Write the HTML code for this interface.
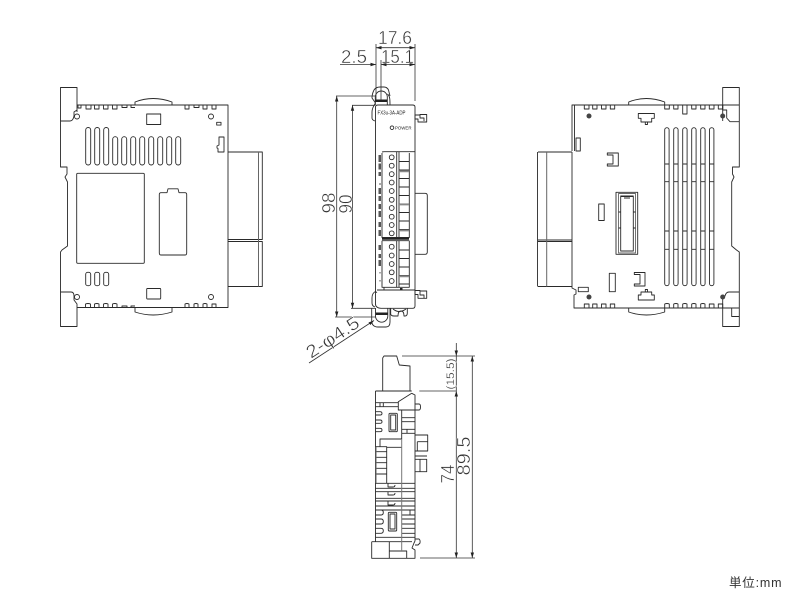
<!DOCTYPE html>
<html><head><meta charset="utf-8"><style>
html,body{margin:0;padding:0;background:#fff}
svg{display:block}
.l{fill:none;stroke:#2a2a2a;stroke-width:.9;stroke-linejoin:round}
.g{fill:none;stroke:#666;stroke-width:1}
.d{fill:none;stroke:#333;stroke-width:.8}
.a{fill:#222;stroke:none}
.t{font-family:"Liberation Sans",sans-serif;fill:#333;stroke:#fff;stroke-width:.45}
.s{font-family:"Liberation Sans",sans-serif;fill:#222;font-size:5px}
</style></head><body>
<svg width="800" height="600" viewBox="0 0 800 600" xmlns="http://www.w3.org/2000/svg">
<rect width="800" height="600" fill="#fff"/>

<!-- LEFT VIEW -->
<g class="l">
<path d="M60.5 121V87.5H77V112"/>
<path d="M77 105H228V307.5H77"/>
<path d="M77 110L74 112V116Q73 121 70 121H60.5V167H67V174L65 177L67.5 182V246L62 250L60.5 252V292H71Q74 292 74 296V300L77 304V326.5H60.5V292"/>
<path d="M135 105V102Q153 95 172 102V105M135 308V312Q153 318 172 312V308"/>
<path d="M86 105V109H91V105M94.500 105V109H99V105M103.500 105V109H108V105M112.500 105V109H117V105M122 105V107.500H127V105M131 105V107.500H135M185 105V109H189V105M194 105V107.500H199V105M203 105V109H207V105M212 105V109H216V105"/>
<path d="M85.500 308V304Q88 303 90.500 304V308M94.500 308V304Q97 303 99 304V308M103.500 308V304Q106 303 108 304V308M112.500 308V304Q115 303 117 304V308M122 308V306H127V308M131 308V306H135M185 308V304Q187 303 189 304V308M194 308V304Q196 303 198 304V308M203 308V304Q205 303 207 304V308M212 308V304H216V308"/>
<path d="M78 105V108H81V105"/>
<circle cx="77" cy="116.500" r="2.500"/><circle cx="211" cy="116.500" r="2.500"/>
<circle cx="77" cy="297" r="2.500"/><circle cx="211" cy="297" r="2.500"/>
<rect x="146.700" y="114" width="14" height="10.500"/>
<rect x="146.700" y="288.500" width="14" height="10.500" rx=".7"/>
<rect x="216.700" y="122.300" width="4.300" height="2.800"/>
<path d="M219 137H224V152H218V148.500L217 148V146L219 145Z"/>
<rect x="85.700" y="127.500" width="5" height="37.500" rx="2.500"/>
<rect x="94.700" y="127.500" width="5" height="37.500" rx="2.500"/>
<rect x="103.700" y="127.500" width="5" height="37.500" rx="2.500"/>
<rect x="112.700" y="136.700" width="5" height="28.300" rx="2.500"/>
<rect x="121.700" y="136.700" width="5" height="28.300" rx="2.500"/>
<rect x="130.700" y="136.700" width="5" height="28.300" rx="2.500"/>
<rect x="139.700" y="136.700" width="5" height="28.300" rx="2.500"/>
<rect x="148.700" y="136.700" width="5" height="28.300" rx="2.500"/>
<rect x="157.700" y="136.700" width="5" height="28.300" rx="2.500"/>
<rect x="166.700" y="136.700" width="5" height="28.300" rx="2.500"/>
<rect x="175.700" y="136.700" width="5" height="28.300" rx="2.500"/>
<rect x="85.700" y="272.300" width="5" height="13.400" rx="2"/>
<rect x="94.700" y="272.300" width="5" height="13.400" rx="2"/>
<rect x="103.700" y="272.300" width="5" height="13.400" rx="2"/>
<rect x="76.700" y="173.300" width="67.600" height="90" rx="1"/>
<path d="M159.300 194.500Q159.300 192.700 161 192.700H167L168 188.800H178L179 192.700H185Q186.700 192.700 186.700 194.500V253Q186.700 255 185 255H161Q159.300 255 159.300 253Z"/>
<path d="M228 152H262.300V239.500H228M228 241.500H262.300V286.500H228"/>
</g>
<path class="g" d="M258.500 152V286.500"/>

<!-- RIGHT VIEW -->
<g class="l">
<path d="M739.300 105H572V151M572 152V288L576 290V294L574 295V308H739.300M574.500 105V151"/>
<path d="M722.700 121V87.500H739.300V167H732.500V174L734 177L731.700 182V246L736.500 250L739.300 252V292H729Q726 292 725 296L722.700 299V326.500H739.300V292"/>
<path d="M731.700 308V316.500H739.300"/>
<path d="M722.700 105V110H726.700V118L730 121.700H739.300"/>
<rect x="576" y="138" width="4.300" height="13"/>
<path d="M628.700 105V102Q646 95 664.700 102V105M628.700 308V312Q646 318 664.700 312V308"/>
<path d="M584.300 105V109H589V105M592.700 105V109H597V105M601.500 105V109H606V105M610.300 105V109H614.700V105M664.700 105V109H669.300V105M673.700 105V109H678V105M682.700 105V114H687V105M691.700 105V109H696V105M700.700 105V109H705V105M709.300 105V109H714V105M718.300 105V109H722.700V105"/>
<path d="M584.300 308V304H589V308M592.700 308V304H597V308M601.500 308V304H606V308M610.300 308V304H614.700V308M664.700 308V304Q667 303 669.300 304V308M673.700 308V304Q676 303 678 304V308M682.700 308V304Q685 303 687 304V308M691.700 308V304Q694 303 696 304V308M700.700 308V304Q703 303 705 304V308M709.300 308V304H714V308M718.300 308V304H722.700V308"/>
<path d="M538 152H572M538 240H572M538 241.500H572M538 286.500H572M537.500 152V286.500"/>
<path d="M638.300 113.500H654.300V118.300H651.700V122H641V118.300H638.300Z"/>
<path d="M645.300 122V124.500H647.500V122"/>
<path d="M638.300 300H654.300V295H651.700V292H641V295H638.300Z"/>
<path d="M645.300 292V289.500H647.500V292"/>
<path d="M607.300 153H618.300V166H607.300V164H613V155H607.300Z"/>
<path d="M645 272.500H634.300V274.500H640V284H634.300V286H645Z"/>
<rect x="664.700" y="127.700" width="4.400" height="158" rx="2.200"/>
<rect x="673.700" y="127.700" width="4.400" height="158" rx="2.200"/>
<rect x="682.700" y="127.700" width="4.400" height="158" rx="2.200"/>
<rect x="691.700" y="127.700" width="4.400" height="158" rx="2.200"/>
<rect x="700.700" y="127.700" width="4.400" height="158" rx="2.200"/>
<rect x="709.500" y="127.700" width="4.400" height="158" rx="2.200"/>
<path d="M664.700 164H669M673.700 164H678M682.700 164H687M691.700 164H696M700.700 164H705M709.500 164H714M664.700 181.700H669M673.700 181.700H678M682.700 181.700H687M691.700 181.700H696M700.700 181.700H705M709.500 181.700H714M664.700 231H669M673.700 231H678M682.700 231H687M691.700 231H696M700.700 231H705M709.500 231H714M664.700 249.300H669M673.700 249.300H678M682.700 249.300H687M691.700 249.300H696M700.700 249.300H705M709.500 249.300H714"/>
<rect x="616" y="192.300" width="21.700" height="62"/>
<rect x="618.500" y="193.500" width="17" height="59.500" stroke="#666"/>
<path d="M620.700 196V251H633.300V196Z"/>
<path d="M621 196.500H633M621 251H633M624 198H630M633.500 212H635.500M633.500 228H635.500M618.500 212H620.700M618.500 228H620.700"/>
<rect x="598.700" y="204" width="5.500" height="16.500"/>
<rect x="609.300" y="273.300" width="6" height="18.400"/>
<rect x="578.300" y="287.300" width="10" height="4.400"/>
</g>
<path class="g" d="M546.700 152V286.500"/>
<g fill="#444">
<circle cx="589" cy="116" r="2.500"/><circle cx="722.700" cy="116" r="2.500"/>
<circle cx="589" cy="297" r="2.500"/><circle cx="722.700" cy="297" r="2.500"/>
</g>

<!-- MIDDLE VIEW -->
<g class="l">
<path d="M375.500 107Q375.500 105 378 105H412.500Q415 105 415 107V306Q415 308.300 412.500 308.300H381Q375.500 308 375.500 304V107Z"/>
<path d="M375.500 103Q372 108 372 112V118Q372 120 375 121M387.500 94C390 96 390 100 390 105M380 87H384Q387 87 388.500 90L390 96M380 87Q376 87 374 90Q372 94 372 98L375.500 103"/>
<path d="M375.300 105V97A6 6 0 0 1 387.300 97V105"/>
<path d="M415 115H420V114.500H426.700V122H418V119H415ZM420 114.500V118H424V121"/>
<path d="M415 290.500H420V291H426.700V298.300H418V294.500H415ZM420 291V295H424V298"/>
<path d="M415 193.300H425Q427.300 193.300 427.300 195.500V252Q427.300 254.300 425 254.300H415"/>
<path d="M382 152L384 151.700H415M382 153V237.500H409.300V153M396.700 152V237.500M399 152V237.500"/>
<path d="M382 240.700V287.300H409.300V240.700M382 240.700H409.300M396.700 240.700V287.300M399 240.700V287.300"/>
<path d="M384 290.500V287.300M377 290H415M377 292.700L375.500 291.500Q372 293 372 298V303Q372 306 375 307"/>
<path d="M375.500 308V316A6 6 0 0 0 387.800 316V308M371.700 308V321Q372 327 378 327H386Q390 327 390 322V308"/>
<path d="M390.700 308V314Q391 316 394 316H398Q398 311 401 311Q404 311 404 316H405Q407.300 316 407.300 313V308"/>
<path d="M393 309Q399 314 406 309"/>
<circle cx="392" cy="127.700" r="1.800"/>
<circle cx="391.700" cy="157.300" r="2.400"/><circle cx="391.700" cy="165.700" r="2.400"/><circle cx="391.700" cy="174.100" r="2.400"/><circle cx="391.700" cy="182.500" r="2.400"/><circle cx="391.700" cy="191" r="2.400"/><circle cx="391.700" cy="199.800" r="2.400"/><circle cx="391.700" cy="208" r="2.400"/><circle cx="391.700" cy="216.700" r="2.400"/><circle cx="391.700" cy="225" r="2.400"/><circle cx="391.700" cy="233.300" r="2.400"/>
<circle cx="391.700" cy="246.700" r="2.400"/><circle cx="391.700" cy="255.500" r="2.400"/><circle cx="391.700" cy="264" r="2.400"/><circle cx="391.700" cy="272.300" r="2.400"/><circle cx="391.700" cy="281" r="2.400"/>
<path d="M399 161.500H409.300M399 170H409.300M399 178.500H409.300M399 187H409.300M399 195.500H409.300M399 204H409.300M399 212.500H409.300M399 221H409.300M399 229.500H409.300"/>
<path d="M399 250H409.300M399 258.500H409.300M399 267H409.300M399 275.500H409.300M399 284H409.300"/>
</g>
<path d="M382 238.700H409" stroke="#222" stroke-width="2" fill="none"/>
<path d="M399 171.300H409M399 204.500H409M399 230.500H409M399 276.300H409" stroke="#888" stroke-width="1.800" fill="none"/>
<path d="M375.500 100.700H387.300M375.800 313.700H387.800" stroke="#222" stroke-width="2.500" fill="none"/>
<rect x="400" y="288" width="2.500" height="2" fill="#222"/>
<text class="s" x="377.500" y="114.500" textLength="28" lengthAdjust="spacingAndGlyphs" style="font-size:5.500px">FX3u-3A-ADP</text>
<text class="s" x="395" y="129.500" textLength="16.500" lengthAdjust="spacingAndGlyphs" style="font-size:4.800px">POWER</text>
<g fill="#555">
<rect x="378.500" y="155" width="2.500" height="7"/><rect x="378.500" y="163.500" width="2.500" height="6"/><rect x="378.500" y="172" width="2.500" height="4"/><rect x="379.500" y="183" width="1" height="2"/><rect x="378.500" y="188" width="2.500" height="6"/><rect x="378.500" y="196" width="2.500" height="5"/><rect x="378.500" y="204" width="2.500" height="5"/><rect x="378.500" y="211" width="2.500" height="6"/><rect x="378.500" y="222" width="2.500" height="5"/><rect x="378.500" y="230" width="2.500" height="6"/>
<rect x="378.500" y="245" width="2.500" height="5"/><rect x="378.500" y="254" width="2.500" height="4"/><rect x="378.500" y="260" width="2.500" height="6"/><rect x="379.500" y="272" width="1" height="1.500"/><rect x="379.500" y="280" width="1" height="1.500"/>
</g>

<!-- BOTTOM VIEW -->
<g class="l">
<path d="M382.700 390.700V358L384 356H396.700L399.300 365L410 366V390.700"/>
<path d="M375.500 391H411.700M375.500 391V541.700M415 395V541M411.700 393.300L415 395V410H398.300V401.700L411.700 393.300M415 404H419Q420.500 404 420.500 407Q420.500 410 419 410H415"/>
<path d="M375.500 402.700H398.300M375.500 406.700H398.300M380 402.700V406.700M383.300 402.700V406.700"/>
<path d="M375.500 411.700H380Q382 411.700 382 413.500Q382 415 380 415H375.500M375.500 420H380Q382 420 382 421.700Q382 423.300 380 423.300H375.500M375.500 428.300H380Q382 428.300 382 430Q382 431.700 380 431.700H375.500"/>
<rect x="389" y="413.300" width="8.300" height="18.400" rx="1"/>
<rect x="390.700" y="415" width="5" height="15"/>
<path d="M401.700 410V439M401.700 417.700H415M401.700 421.700H415M401.700 429.300H415M401.700 433.300H415M407 429.300V433.300"/>
<path d="M401.700 439H380V446.700M375.500 446.700H386.700V483M386.700 447.300H401.700"/>
<path d="M375.500 451.700H386.700M375.500 457.300H386.700M375.500 462.700H386.700M375.500 468.300H386.700M375.500 474H386.700"/>
<path d="M375.500 483.300H415M375.500 488.300H415M375.500 491.700H415M375.500 498.300H415M375.500 501H415M375.500 506H415M375.500 510H415"/>
<path d="M388 483.300V487H393Q395 487 395 485M388 491.700V495H393Q395 495 395 493M388 501V505H393Q395 505 395 503"/>
<path d="M375.500 515H381Q383.300 515 383.300 512.500Q383.300 510 381 510M375.500 519H381Q383.300 519 383.300 521.500Q383.300 524 381 524H375.500M375.500 528.300H381Q383.300 528.300 383.300 530.800Q383.300 533.300 381 533.300H375.500"/>
<rect x="388.300" y="512.300" width="8.400" height="18.700" rx="1"/>
<rect x="390" y="514" width="5" height="15"/>
<path d="M401.700 515H415M401.700 519H415M401.700 524H415M401.700 528.300H415M401.700 533.300H415M410 510V515"/>
<path d="M375.500 537.300H415M375.500 541.700H412"/>
<path d="M371.700 541.700H375.500M371.700 541.700V558.300H415V550L412 548L414 543L415 541M389.300 541.700V558.300M389.300 551H406.700V558.300"/>
<path d="M415 539L419 539Q420.500 540 420 543L418 545H415"/>
<path d="M415 435H427.700V451H415M417.300 441.700H427.700M417.300 441.700V451"/>
<path d="M415 456H427M415 459.300H426.700V471.700H415M420 459.300V471.700"/>
</g>
<path d="M401.700 439V551" stroke="#777" stroke-width="1" fill="none"/>
<path class="g" d="M376 447V483" stroke-width="1.500"/>

<!-- DIMENSIONS -->
<g class="d">
<path d="M376 44V100M415 44V101M381 60V100"/>
<path d="M376 47.700H415M340 64.500H376M381 64.500H415"/>
<path d="M336 96H375M335 317H376M352 105.300H375M351 308.300H375"/>
<path d="M336.700 96V317M352.500 105.300V308.300"/>
<path d="M309 363L374 320.500"/>
<path d="M456.300 343V558M472.300 356V558M402 356H475M419.300 391H456.300M420 558H475"/>
</g>
<g class="a">
<path d="M376 47.700L381.500 46V49.400ZM415 47.700L409.500 46V49.400ZM376 64.500L370.500 62.800V66.200ZM381 64.500L386.500 62.800V66.200ZM415 64.500L409.500 62.800V66.200Z"/>
<path d="M336.700 96L335 101.500H338.400ZM336.700 317L335 311.500H338.400ZM352.500 105.300L350.800 110.800H354.200ZM352.500 308.300L350.800 302.800H354.200Z"/>
<path d="M374 320.500L370.500 325L368.500 322.500Z"/>
<path d="M456.300 356L454.600 350.500H458ZM456.300 391L454.600 396.500H458ZM456.300 558L454.600 552.500H458ZM472.300 356L470.600 361.500H474ZM472.300 558L470.600 552.500H474Z"/>
</g>
<g class="t" font-size="18">
<text x="378" y="44" textLength="34" lengthAdjust="spacingAndGlyphs">17.6</text>
<text x="341" y="63" textLength="26" lengthAdjust="spacingAndGlyphs">2.5</text>
<text x="381" y="63" textLength="33" lengthAdjust="spacingAndGlyphs">15.1</text>
<text transform="translate(335 213.500) rotate(-90)" textLength="21" lengthAdjust="spacingAndGlyphs">98</text>
<text transform="translate(352 213.500) rotate(-90)" textLength="19" lengthAdjust="spacingAndGlyphs">90</text>
<text transform="translate(454 483.500) rotate(-90)" textLength="19" lengthAdjust="spacingAndGlyphs">74</text>
<text transform="translate(470 475.500) rotate(-90)" textLength="39" lengthAdjust="spacingAndGlyphs">89.5</text>
<text transform="translate(311 359) rotate(-33.500)" textLength="60" lengthAdjust="spacingAndGlyphs">2-φ4.5</text>
<text transform="translate(454 389.500) rotate(-90)" font-size="11" textLength="31" lengthAdjust="spacingAndGlyphs" style="stroke-width:.2">(15.5)</text>
</g>
<text x="729" y="587" font-size="12.500" textLength="52.500" lengthAdjust="spacing" fill="#333" style='font-family:"Liberation Sans","Noto Sans CJK JP",sans-serif'>単位:mm</text>
</svg>
</body></html>
